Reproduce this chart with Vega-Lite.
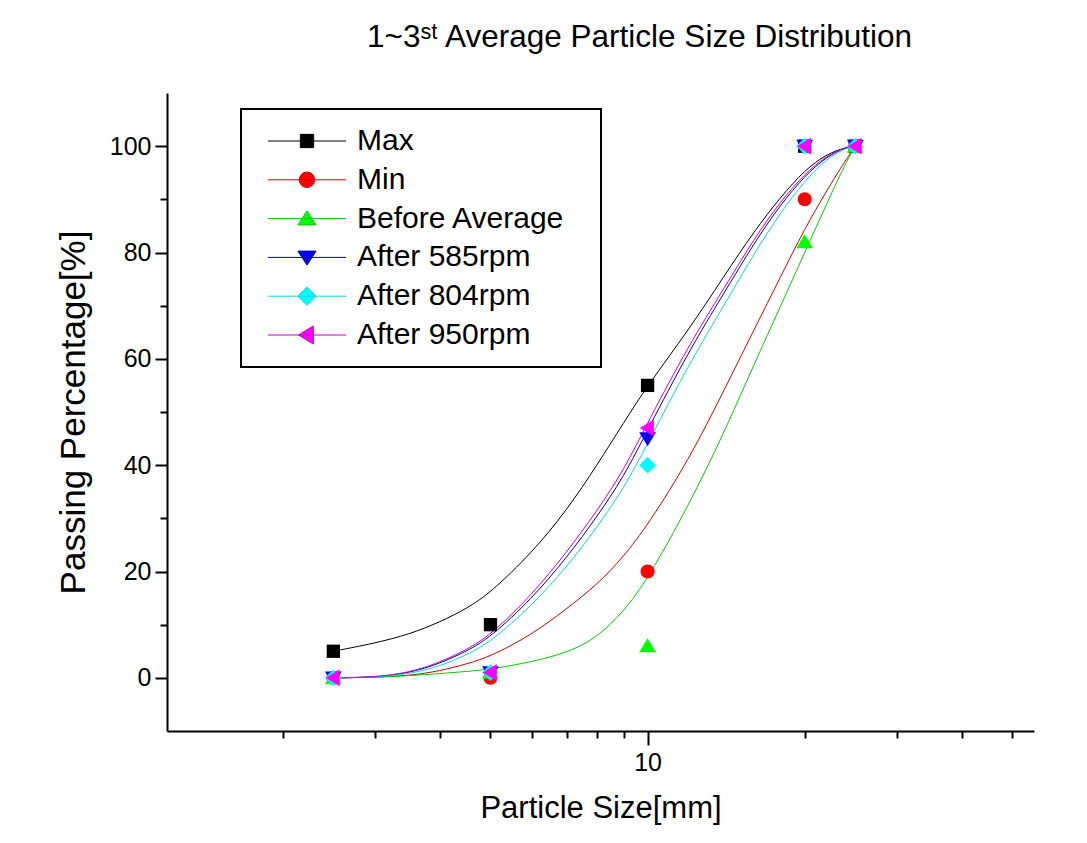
{
  "$schema": "https://vega.github.io/schema/vega-lite/v6.json",
  "width": 867,
  "height": 638,
  "autosize": {"type": "none"},
  "padding": {"left": 167, "top": 93, "right": 53, "bottom": 112},
  "background": "white",
  "title": {"text": "1~3ˢᵗ Average Particle Size Distribution", "anchor": "start", "frame": "group", "dx": 200, "offset": 40, "font": "Liberation Sans", "fontSize": 31.5, "fontWeight": "normal", "color": "black"},
  "config": {
    "view": {"stroke": null},
    "legend": {"strokeWidth": 2},
    "axis": {"domainColor": "black", "domainWidth": 2, "tickColor": "black", "tickWidth": 2, "labelFont": "Liberation Sans", "labelColor": "black", "labelFontSize": 25, "titleFont": "Liberation Sans", "titleColor": "black", "titleFontWeight": "normal", "grid": false}
  },
  "datasets": {
    "points": [
      {"series": "Max", "size": 2.5, "pct": 5}, {"series": "Max", "size": 5, "pct": 10}, {"series": "Max", "size": 10, "pct": 55}, {"series": "Max", "size": 20, "pct": 100}, {"series": "Max", "size": 25, "pct": 100},
      {"series": "Min", "size": 2.5, "pct": 0}, {"series": "Min", "size": 5, "pct": 0}, {"series": "Min", "size": 10, "pct": 20}, {"series": "Min", "size": 20, "pct": 90}, {"series": "Min", "size": 25, "pct": 100},
      {"series": "Before Average", "size": 2.5, "pct": 0}, {"series": "Before Average", "size": 5, "pct": 1}, {"series": "Before Average", "size": 10, "pct": 6}, {"series": "Before Average", "size": 20, "pct": 82}, {"series": "Before Average", "size": 25, "pct": 100},
      {"series": "After 585rpm", "size": 2.5, "pct": 0}, {"series": "After 585rpm", "size": 5, "pct": 1}, {"series": "After 585rpm", "size": 10, "pct": 45}, {"series": "After 585rpm", "size": 20, "pct": 100}, {"series": "After 585rpm", "size": 25, "pct": 100},
      {"series": "After 804rpm", "size": 2.5, "pct": 0}, {"series": "After 804rpm", "size": 5, "pct": 1}, {"series": "After 804rpm", "size": 10, "pct": 40}, {"series": "After 804rpm", "size": 20, "pct": 100}, {"series": "After 804rpm", "size": 25, "pct": 100},
      {"series": "After 950rpm", "size": 2.5, "pct": 0}, {"series": "After 950rpm", "size": 5, "pct": 1}, {"series": "After 950rpm", "size": 10, "pct": 47}, {"series": "After 950rpm", "size": 20, "pct": 100}, {"series": "After 950rpm", "size": 25, "pct": 100}
    ],
    "curves": [
      {"series": "Max", "size": 2.5, "pct": 5}, {"series": "Max", "size": 3, "pct": 6.5}, {"series": "Max", "size": 3.5, "pct": 8.2}, {"series": "Max", "size": 4, "pct": 10.5}, {"series": "Max", "size": 4.5, "pct": 13}, {"series": "Max", "size": 5, "pct": 16}, {"series": "Max", "size": 6, "pct": 23.5}, {"series": "Max", "size": 7, "pct": 31.5}, {"series": "Max", "size": 8, "pct": 40}, {"series": "Max", "size": 9, "pct": 48}, {"series": "Max", "size": 10, "pct": 55}, {"series": "Max", "size": 12, "pct": 65.5}, {"series": "Max", "size": 14, "pct": 75.5}, {"series": "Max", "size": 16, "pct": 84}, {"series": "Max", "size": 18, "pct": 90.5}, {"series": "Max", "size": 20, "pct": 95.5}, {"series": "Max", "size": 22, "pct": 98.5}, {"series": "Max", "size": 24, "pct": 99.8}, {"series": "Max", "size": 25, "pct": 100},
      {"series": "Min", "size": 2.5, "pct": 0}, {"series": "Min", "size": 3, "pct": 0.1}, {"series": "Min", "size": 3.5, "pct": 0.4}, {"series": "Min", "size": 4, "pct": 1.3}, {"series": "Min", "size": 4.5, "pct": 2.6}, {"series": "Min", "size": 5, "pct": 4}, {"series": "Min", "size": 6, "pct": 8.1}, {"series": "Min", "size": 7, "pct": 13}, {"series": "Min", "size": 8, "pct": 17.5}, {"series": "Min", "size": 9, "pct": 22.8}, {"series": "Min", "size": 10, "pct": 28.7}, {"series": "Min", "size": 12, "pct": 41}, {"series": "Min", "size": 14, "pct": 54}, {"series": "Min", "size": 16, "pct": 65.5}, {"series": "Min", "size": 18, "pct": 75.5}, {"series": "Min", "size": 20, "pct": 84.5}, {"series": "Min", "size": 22, "pct": 91.5}, {"series": "Min", "size": 24, "pct": 97.5}, {"series": "Min", "size": 25, "pct": 100},
      {"series": "Before Average", "size": 2.5, "pct": 0}, {"series": "Before Average", "size": 3, "pct": 0.1}, {"series": "Before Average", "size": 3.5, "pct": 0.4}, {"series": "Before Average", "size": 4, "pct": 0.8}, {"series": "Before Average", "size": 4.5, "pct": 1.2}, {"series": "Before Average", "size": 5, "pct": 1.6}, {"series": "Before Average", "size": 6, "pct": 3}, {"series": "Before Average", "size": 7, "pct": 4.7}, {"series": "Before Average", "size": 8, "pct": 7.5}, {"series": "Before Average", "size": 9, "pct": 12.5}, {"series": "Before Average", "size": 10, "pct": 18.5}, {"series": "Before Average", "size": 12, "pct": 32.5}, {"series": "Before Average", "size": 14, "pct": 46}, {"series": "Before Average", "size": 16, "pct": 59}, {"series": "Before Average", "size": 18, "pct": 70}, {"series": "Before Average", "size": 20, "pct": 80}, {"series": "Before Average", "size": 22, "pct": 89}, {"series": "Before Average", "size": 24, "pct": 97}, {"series": "Before Average", "size": 25, "pct": 100},
      {"series": "After 585rpm", "size": 2.5, "pct": 0}, {"series": "After 585rpm", "size": 3, "pct": 0.1}, {"series": "After 585rpm", "size": 3.5, "pct": 0.9}, {"series": "After 585rpm", "size": 4, "pct": 2.7}, {"series": "After 585rpm", "size": 4.5, "pct": 5}, {"series": "After 585rpm", "size": 5, "pct": 7.6}, {"series": "After 585rpm", "size": 6, "pct": 14.9}, {"series": "After 585rpm", "size": 7, "pct": 22.6}, {"series": "After 585rpm", "size": 8, "pct": 30.3}, {"series": "After 585rpm", "size": 9, "pct": 37.8}, {"series": "After 585rpm", "size": 10, "pct": 46.6}, {"series": "After 585rpm", "size": 12, "pct": 61.5}, {"series": "After 585rpm", "size": 14, "pct": 72.3}, {"series": "After 585rpm", "size": 16, "pct": 81.8}, {"series": "After 585rpm", "size": 18, "pct": 89.1}, {"series": "After 585rpm", "size": 20, "pct": 94.4}, {"series": "After 585rpm", "size": 22, "pct": 98}, {"series": "After 585rpm", "size": 24, "pct": 99.8}, {"series": "After 585rpm", "size": 25, "pct": 100},
      {"series": "After 804rpm", "size": 2.5, "pct": 0}, {"series": "After 804rpm", "size": 3, "pct": 0.1}, {"series": "After 804rpm", "size": 3.5, "pct": 0.7}, {"series": "After 804rpm", "size": 4, "pct": 2.2}, {"series": "After 804rpm", "size": 4.5, "pct": 4.3}, {"series": "After 804rpm", "size": 5, "pct": 6.7}, {"series": "After 804rpm", "size": 6, "pct": 13.6}, {"series": "After 804rpm", "size": 7, "pct": 20.8}, {"series": "After 804rpm", "size": 8, "pct": 28.3}, {"series": "After 804rpm", "size": 9, "pct": 35.6}, {"series": "After 804rpm", "size": 10, "pct": 44}, {"series": "After 804rpm", "size": 12, "pct": 59}, {"series": "After 804rpm", "size": 14, "pct": 70}, {"series": "After 804rpm", "size": 16, "pct": 79.8}, {"series": "After 804rpm", "size": 18, "pct": 87.6}, {"series": "After 804rpm", "size": 20, "pct": 93.5}, {"series": "After 804rpm", "size": 22, "pct": 97.6}, {"series": "After 804rpm", "size": 24, "pct": 99.7}, {"series": "After 804rpm", "size": 25, "pct": 100},
      {"series": "After 950rpm", "size": 2.5, "pct": 0}, {"series": "After 950rpm", "size": 3, "pct": 0.1}, {"series": "After 950rpm", "size": 3.5, "pct": 1}, {"series": "After 950rpm", "size": 4, "pct": 2.9}, {"series": "After 950rpm", "size": 4.5, "pct": 5.3}, {"series": "After 950rpm", "size": 5, "pct": 8}, {"series": "After 950rpm", "size": 6, "pct": 15.6}, {"series": "After 950rpm", "size": 7, "pct": 23.6}, {"series": "After 950rpm", "size": 8, "pct": 31.4}, {"series": "After 950rpm", "size": 9, "pct": 39}, {"series": "After 950rpm", "size": 10, "pct": 48}, {"series": "After 950rpm", "size": 12, "pct": 62.6}, {"series": "After 950rpm", "size": 14, "pct": 73.2}, {"series": "After 950rpm", "size": 16, "pct": 82.6}, {"series": "After 950rpm", "size": 18, "pct": 89.7}, {"series": "After 950rpm", "size": 20, "pct": 94.8}, {"series": "After 950rpm", "size": 22, "pct": 98.2}, {"series": "After 950rpm", "size": 24, "pct": 99.8}, {"series": "After 950rpm", "size": 25, "pct": 100}
    ]
  },
  "layer": [
    {
      "data": {"name": "curves"},
      "mark": {"type": "line", "interpolate": "basis", "strokeWidth": 1},
      "encoding": {
        "x": {"field": "size", "type": "quantitative", "scale": {"type": "log", "domain": [1.2, 55], "nice": false},
          "axis": {"title": "Particle Size[mm]", "values": [2, 3, 4, 5, 6, 7, 8, 9, 10, 20, 30, 40, 50], "labelExpr": "datum.value == 10 ? '10' : ''", "tickSize": {"condition": {"test": "datum.value == 10", "value": 14}, "value": 7}, "labelFontSize": 25, "labelPadding": 5, "labelOverlap": false, "labelFlush": false, "titleFontSize": 31, "titlePadding": 18}},
        "y": {"field": "pct", "type": "quantitative", "scale": {"domain": [-10, 110], "nice": false, "zero": false},
          "axis": {"title": "Passing Percentage[%]", "values": [0, 10, 20, 30, 40, 50, 60, 70, 80, 90, 100], "labelExpr": "datum.value % 20 == 0 ? datum.label : ''", "tickSize": {"condition": {"test": "datum.value % 20 == 0", "value": 12}, "value": 7}, "labelFontSize": 25, "labelPadding": 4, "titleFontSize": 35, "titlePadding": 18}},
        "stroke": {"field": "series", "type": "nominal", "legend": null,
          "scale": {"domain": ["After 950rpm", "After 804rpm", "After 585rpm", "Before Average", "Min", "Max"], "range": ["#CC00CC", "#00DDDD", "#0000B0", "#00CC00", "#D00000", "#000000"]}}
      }
    },
    {
      "data": {"name": "points"},
      "mark": {"type": "point", "filled": true, "size": 196, "opacity": 1},
      "encoding": {
        "x": {"field": "size", "type": "quantitative", "scale": {"type": "log", "domain": [1.2, 55], "nice": false}},
        "y": {"field": "pct", "type": "quantitative", "scale": {"domain": [-10, 110], "nice": false, "zero": false}},
        "color": {"field": "series", "type": "nominal",
          "scale": {"domain": ["Max", "Min", "Before Average", "After 585rpm", "After 804rpm", "After 950rpm"], "range": ["#000000", "#FF0000", "#00FF00", "#0000FF", "#00FFFF", "#FF00FF"]},
          "legend": {"title": " ", "titleOrient": "right", "titleFontSize": 30, "titlePadding": 19, "orient": "none", "legendX": 74, "legendY": 16, "padding": 17, "rowPadding": 8.8, "symbolOffset": 34, "labelOffset": 35, "labelFont": "Liberation Sans", "labelFontSize": 30, "labelColor": "black", "labelLimit": 500, "symbolSize": 196, "symbolStrokeWidth": 1, "strokeColor": "black", "fillColor": "white",
            "symbolType": {"expr": "datum.value === 'Max' ? 'M-5.57,0H5.57M-0.95,-0.95H0.95V0.95H-0.95Z' : datum.value === 'Min' ? 'M-5.57,0H5.57M-1.1,0A1.1,1.1 0 1,1 1.1,0A1.1,1.1 0 1,1 -1.1,0Z' : datum.value === 'Before Average' ? 'M-5.57,0H5.57M0,-1.1L1.3,0.9L-1.3,0.9Z' : datum.value === 'After 585rpm' ? 'M-5.57,0H5.57M-1.3,-0.9L1.3,-0.9L0,1.1Z' : datum.value === 'After 804rpm' ? 'M-5.57,0H5.57M0,-1.3L1.3,0L0,1.3L-1.3,0Z' : 'M-5.57,0H5.57M-1.2,0L0.9,-1.3L0.9,1.3Z'"},
            "symbolStrokeColor": {"expr": "datum.value === 'Max' ? '#000000' : datum.value === 'Min' ? '#D00000' : datum.value === 'Before Average' ? '#00CC00' : datum.value === 'After 585rpm' ? '#0000B0' : datum.value === 'After 804rpm' ? '#00DDDD' : '#CC00CC'"}
          }},
        "shape": {"field": "series", "type": "nominal", "legend": null,
          "scale": {"domain": ["After 950rpm", "After 804rpm", "After 585rpm", "Before Average", "Min", "Max"], "range": ["M-1.1,0L0.9,-1.2L0.9,1.2Z", "M0,-1.2L1.2,0L0,1.2L-1.2,0Z", "M-1.2,-0.9L1.2,-0.9L0,1.1Z", "M0,-1.1L1.2,0.9L-1.2,0.9Z", "M-1,0A1,1 0 1,1 1,0A1,1 0 1,1 -1,0Z", "M-0.95,-0.95H0.95V0.95H-0.95Z"]}}
      }
    }
  ]
}
